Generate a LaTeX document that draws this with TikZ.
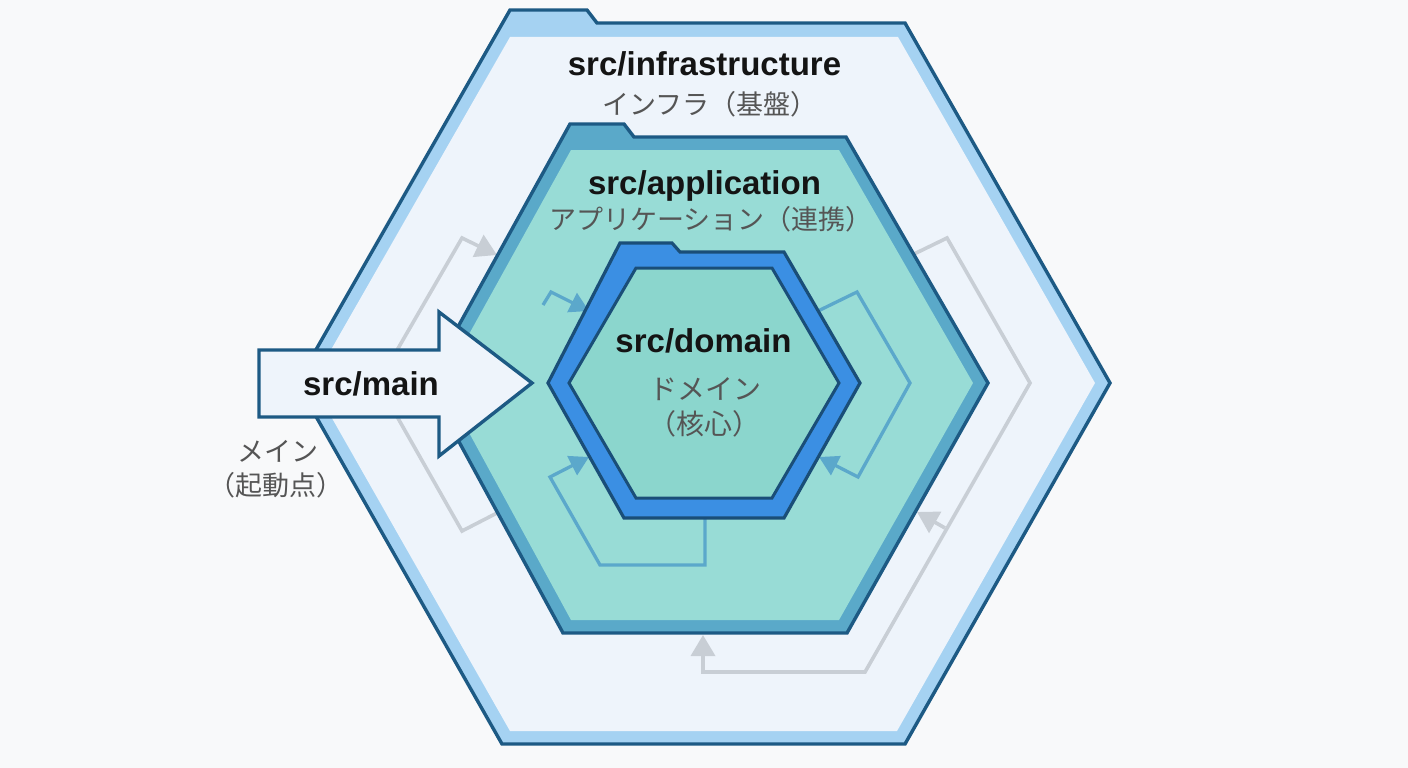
\documentclass[tikz,border=0pt]{standalone}
\usepackage{fontspec}
\setmainfont{Liberation Sans}
\newfontfamily\jp{Noto Sans CJK JP}
\usetikzlibrary{arrows.meta}
\definecolor{bg}{HTML}{F8F9FA}
\definecolor{cDark}{HTML}{1D5A84}
\definecolor{cOutBand}{HTML}{A5D2F2}
\definecolor{cOutFill}{HTML}{EEF4FB}
\definecolor{cAppBand}{HTML}{5AA9C9}
\definecolor{cAppFill}{HTML}{98DCD6}
\definecolor{cDomBand}{HTML}{3B8FE3}
\definecolor{cDomFill}{HTML}{8BD6CD}
\definecolor{cDomLine}{HTML}{1A4E78}
\definecolor{cGray}{HTML}{C8CED5}
\definecolor{cBlue}{HTML}{5BA8CB}
\definecolor{cTitle}{HTML}{141414}
\definecolor{cJp}{HTML}{555555}
\begin{document}
\begin{tikzpicture}[x=1pt,y=-1pt,
  hexline/.style={draw=cDark,line width=3.4pt,line join=miter},
  grayarrow/.style={draw=cGray,line width=3.6pt,line join=miter,-{Triangle[length=21pt,width=24pt]}},
  bluearrow/.style={draw=cBlue,line width=3.3pt,line join=miter,-{Triangle[length=19pt,width=21pt]}},
  lat/.style={font=\fontsize{33}{36}\selectfont\bfseries,text=cTitle,anchor=base,inner sep=0pt},
  jpt/.style={font=\jp\fontsize{27}{30}\selectfont,text=cJp,anchor=base,inner sep=0pt}]
\useasboundingbox[fill=bg] (0,0) rectangle (1408,768);

% ---------- outer hexagon: infrastructure ----------
\fill[cOutBand] (510,10) -- (587,10) -- (597,23) -- (905,23) -- (1110,383) -- (905,744) -- (502,744) -- (297,383) -- cycle;
\fill[cOutFill] (510,37) -- (898,37) -- (1095,383) -- (897,731) -- (510,731) -- (312,383) -- cycle;
\draw[hexline] (510,10) -- (587,10) -- (597,23) -- (905,23) -- (1110,383) -- (905,744) -- (502,744) -- (297,383) -- cycle;

% ---------- gray connectors ----------
\coordinate (gl0) at (497,513);
\coordinate (gl1) at (462,531);
\coordinate (gl2) at (378,383);
\coordinate (gl3) at (462,238);
\coordinate (gl4) at (497,255);
\draw[grayarrow] (gl0) -- (gl1) -- (gl2) -- (gl3) -- (gl4);

\coordinate (gr0) at (912,255);
\coordinate (gr1) at (947,238);
\coordinate (gr2) at (1030,383);
\coordinate (gr3) at (865,672);
\coordinate (gr4) at (703,672);
\coordinate (gr5) at (703,635);
\coordinate (grb) at (945,528);
\coordinate (grb1) at (917,512);
\draw[grayarrow] (gr0) -- (gr1) -- (gr2) -- (gr3) -- (gr4) -- (gr5);
\draw[grayarrow] (grb) -- (grb1);

% ---------- application hexagon ----------
\fill[cAppBand] (570,124) -- (624,124) -- (634,137) -- (846,137) -- (988,383) -- (847,633) -- (563,633) -- (427,383) -- cycle;
\fill[cAppFill] (571,150) -- (839,150) -- (973,383) -- (839,620) -- (571,620) -- (442,383) -- cycle;
\draw[hexline] (570,124) -- (624,124) -- (634,137) -- (846,137) -- (988,383) -- (847,633) -- (563,633) -- (427,383) -- cycle;

% ---------- blue connectors ----------
\coordinate (bl0) at (543,305);
\coordinate (bl1) at (551,292);
\coordinate (bl2) at (589,311);
\draw[bluearrow] (bl0) -- (bl1) -- (bl2);

\coordinate (bb0) at (705,516);
\coordinate (bb1) at (705,565);
\coordinate (bb2) at (600,565);
\coordinate (bb3) at (550,477);
\coordinate (bb4) at (589,457);
\draw[bluearrow] (bb0) -- (bb1) -- (bb2) -- (bb3) -- (bb4);

\coordinate (br0) at (818,311);
\coordinate (br1) at (857,292);
\coordinate (br2) at (910,383);
\coordinate (br3) at (858,477);
\coordinate (br4) at (819,457);
\draw[bluearrow] (br0) -- (br1) -- (br2) -- (br3) -- (br4);

% ---------- domain hexagon ----------
\fill[cDomBand] (620,243) -- (672,243) -- (680,252) -- (784,252) -- (860,383) -- (784,518) -- (624,518) -- (548,383) -- cycle;
\draw[draw=cDomLine,line width=3.2pt,line join=miter] (620,243) -- (672,243) -- (680,252) -- (784,252) -- (860,383) -- (784,518) -- (624,518) -- (548,383) -- cycle;
\filldraw[fill=cDomFill,draw=cDomLine,line width=3pt,line join=miter] (636,268) -- (772,268) -- (839,383) -- (772,498) -- (636,498) -- (569,383) -- cycle;

% ---------- main arrow ----------
\filldraw[fill=cOutFill,draw=cDark,line width=3.4pt,line join=miter]
  (259,350) -- (439,350) -- (439,312) -- (532,383) -- (439,456) -- (439,417) -- (259,417) -- cycle;

% ---------- texts ----------
\node[lat] (tinfra) at (704.5,75) {src/infrastructure};
\node[jpt] (jinfra) at (710,114) {インフラ（基盤）};
\node[lat] (tapp) at (704.5,194) {src/application};
\node[jpt] (japp) at (711,229) {アプリケーション（連携）};
\node[lat] (tdom) at (703.5,352) {src/domain};
\node[jpt,font=\jp\fontsize{28}{30}\selectfont] (jdom1) at (705,399) {ドメイン};
\node[jpt,font=\jp\fontsize{28}{30}\selectfont] (jdom2) at (704,434) {（核心）};
\node[lat] (tmain) at (371,395) {src/main};
\node[jpt] (jmain1) at (277.5,461) {メイン};
\node[jpt] (jmain2) at (276,495) {（起動点）};
\end{tikzpicture}
\end{document}
